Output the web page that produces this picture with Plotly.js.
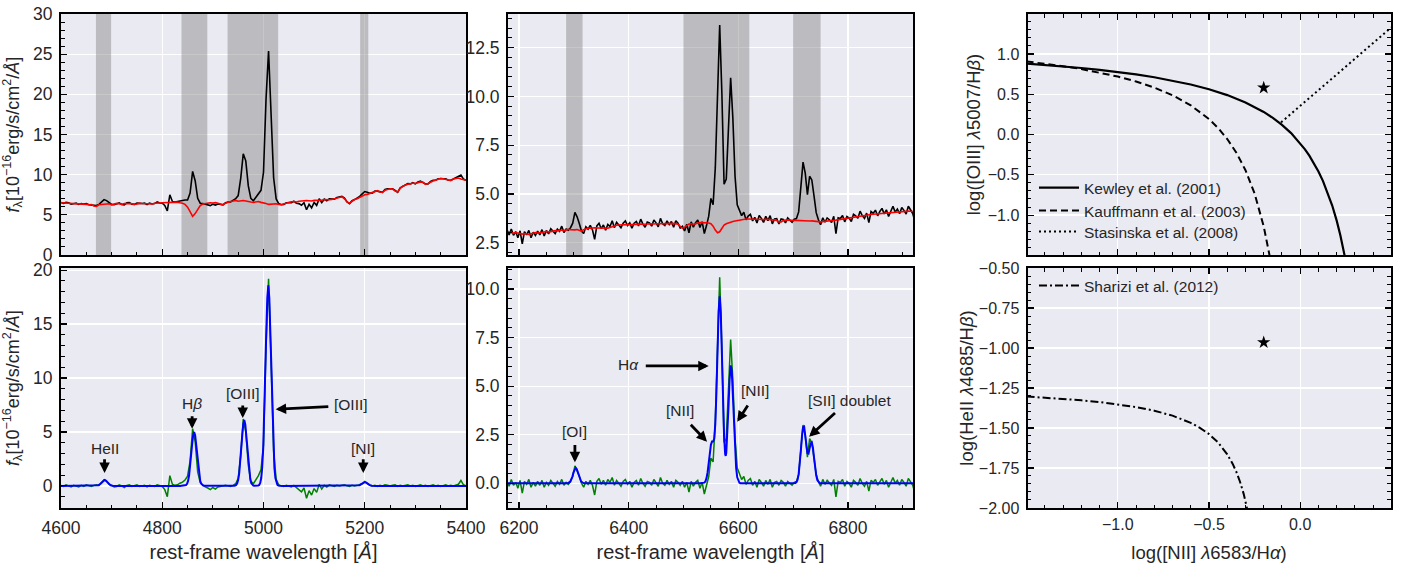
<!DOCTYPE html>
<html><head><meta charset="utf-8">
<script src="https://cdn.plot.ly/plotly-3.0.1.min.js"></script>
<style>html,body{margin:0;padding:0;background:#fff}#chart{width:1401px;height:563px}</style>
</head><body><div id="chart"></div>
<script>
// ---------- blue arm (H-beta / [OIII] region) ----------
const waveBlue = [
4600,4605,4610,4615,4620,4625,4630,4635,4640,4645,
4650,4655,4660,4665,4670,4675,4680,4685,4690,4695,
4700,4705,4710,4715,4720,4725,4730,4735,4740,4745,
4750,4755,4760,4765,4770,4775,4780,4785,4790,4795,
4800,4805,4810,4815,4820,4825,4830,4835,4840,4845,
4850,4855,4860,4865,4870,4875,4880,4885,4890,4895,
4900,4905,4910,4915,4920,4925,4930,4935,4940,4945,
4950,4955,4960,4965,4970,4975,4980,4985,4990,4995,
5000,5005,5010,5015,5020,5025,5030,5035,5040,5045,
5050,5055,5060,5065,5070,5075,5080,5085,5090,5095,
5100,5105,5110,5115,5120,5125,5130,5135,5140,5145,
5150,5155,5160,5165,5170,5175,5180,5185,5190,5195,
5200,5205,5210,5215,5220,5225,5230,5235,5240,5245,
5250,5255,5260,5265,5270,5275,5280,5285,5290,5295,
5300,5305,5310,5315,5320,5325,5330,5335,5340,5345,
5350,5355,5360,5365,5370,5375,5380,5385,5390,5395,
5400];
const stellarBlue = [
6.50,6.48,6.45,6.50,6.42,6.38,6.45,6.40,6.35,6.38,
6.30,6.25,6.28,6.10,6.05,6.25,6.30,6.35,6.32,6.38,
6.25,6.35,6.42,6.38,6.30,6.40,6.45,6.42,6.38,6.30,
6.35,6.45,6.42,6.40,6.38,6.42,6.35,6.45,6.50,6.48,
6.50,6.52,6.48,6.55,6.52,6.55,6.58,6.50,6.45,6.30,
5.95,5.40,4.80,5.15,5.75,6.15,6.35,6.42,6.45,6.50,
6.48,6.52,6.45,6.35,6.25,6.45,6.60,6.65,6.72,6.80,
6.70,6.75,6.78,6.72,6.70,6.60,6.55,6.62,6.65,6.55,
6.50,6.40,6.30,6.35,6.42,6.38,6.30,6.25,6.35,6.45,
6.55,6.62,6.65,6.60,6.70,6.75,6.72,6.78,6.75,6.72,
6.80,6.78,6.85,6.82,6.90,6.85,6.88,6.92,7.00,7.10,
7.20,7.25,7.00,6.60,6.45,6.70,6.90,7.00,7.20,7.40,
7.50,7.55,7.65,7.70,7.90,8.00,7.85,7.80,8.05,8.20,
8.25,8.20,7.95,7.85,8.30,8.55,8.70,8.80,8.85,8.95,
8.90,9.05,9.10,9.05,8.80,8.90,9.10,9.20,9.30,9.45,
9.55,9.50,9.40,9.30,9.25,9.45,9.55,9.58,9.45,9.35,
9.30];
const observedBlue = [
6.55,6.43,6.55,6.50,6.32,6.43,6.45,6.30,6.40,6.33,
6.40,6.25,6.23,6.15,6.15,6.30,6.60,6.90,6.77,6.53,
6.30,6.25,6.37,6.48,6.30,6.25,6.50,6.52,6.33,6.30,
6.45,6.40,6.42,6.45,6.28,6.47,6.35,6.40,6.60,6.48,
6.45,6.17,5.48,7.50,6.67,6.60,6.68,6.75,6.80,6.85,
6.85,7.70,10.40,9.25,7.05,6.45,6.40,6.32,6.25,6.15,
6.33,6.22,6.35,6.30,6.25,6.50,6.60,6.60,6.77,7.00,
7.40,9.55,12.60,11.72,8.60,7.05,6.75,7.17,7.60,8.05,
10.30,19.40,25.40,17.85,9.62,6.98,6.40,6.25,6.30,6.50,
6.55,6.52,6.70,6.45,6.40,6.20,6.52,5.63,6.30,5.87,
6.55,6.18,7.00,6.52,6.95,6.75,6.98,6.97,6.95,7.15,
7.20,7.30,7.10,6.60,6.40,6.75,6.90,7.05,7.30,7.60,
7.90,7.80,7.70,7.70,7.95,7.95,7.90,7.80,8.15,8.25,
8.25,8.25,8.05,7.80,8.35,8.55,8.75,8.90,8.85,9.00,
8.85,9.10,9.20,9.05,8.85,8.85,9.15,9.30,9.30,9.50,
9.50,9.55,9.50,9.30,9.30,9.45,9.60,9.73,9.95,9.45,
9.30];
const residualBlue = [
0.05,-0.05,0.10,0.00,-0.10,0.05,0.00,-0.10,0.05,-0.05,
0.10,0.00,-0.05,0.05,0.10,0.05,0.30,0.55,0.45,0.15,
0.05,-0.10,-0.05,0.10,0.00,-0.15,0.05,0.10,-0.05,0.00,
0.10,-0.05,0.00,0.05,-0.10,0.05,0.00,-0.05,0.10,0.00,
-0.05,-0.35,-1.00,0.95,0.15,0.05,0.10,0.25,0.35,0.55,
0.90,2.30,5.30,4.10,1.30,0.30,0.05,-0.10,-0.20,-0.35,
-0.15,-0.30,-0.10,-0.05,0.00,0.05,0.00,-0.05,0.05,0.20,
0.70,2.80,6.20,5.00,1.90,0.45,0.20,0.55,0.95,1.50,
3.80,13.00,19.20,11.50,3.20,0.60,0.10,0.00,-0.05,0.05,
0.00,-0.10,0.05,-0.15,-0.30,-0.55,-0.20,-1.15,-0.45,-0.85,
-0.25,-0.60,0.15,-0.30,0.05,-0.10,0.10,0.05,-0.05,0.05,
0.00,0.05,0.10,0.00,-0.05,0.05,0.00,0.05,0.10,0.20,
0.40,0.25,0.05,0.00,0.05,-0.05,0.05,0.00,0.10,0.05,
0.00,0.05,0.10,-0.05,0.05,0.00,0.05,0.10,0.00,0.05,
-0.05,0.05,0.10,0.00,0.05,-0.05,0.05,0.10,0.00,0.05,
-0.05,0.05,0.10,0.00,0.05,0.00,0.05,0.15,0.50,0.10,
0.00];
const fitBlueWave = [4600,
4670,4674,4678,4681,4684,4686,4688,4691,4694,4698,4702,4710,
4835,
4843,4845,4847,4849,4851,4853,4855,4857,4859,4861,4863,4865,4867,4869,4871,4873,4875,4877,4879,4881,4883,
4890,4935,
4942,4944,4946,4948,4950,4952,4954,4956,4958,4960,4962,4964,4966,4968,4970,4972,4974,4976,4978,4980,4982,
4985.5,4987.5,4989.5,4991.5,4993.5,4995.5,4997.5,4999.5,5001.5,5003.5,5005.5,5007.5,5009.5,5011.5,5013.5,5015.5,5017.5,5019.5,5021.5,5023.5,5025.5,5027.5,5029.5,5031.5,
5040,5180,
5186,5190,5194,5197,5200,5203,5206,5210,5214,
5222,5400];
const fitBlueFlux = [0,
0.008,0.05,0.19,0.36,0.51,0.55,0.51,0.36,0.19,0.05,0.008,0,
0,
0.007,0.024,0.073,0.196,0.462,0.958,1.737,2.76,3.839,4.68,5.0,4.68,3.839,2.76,1.737,0.958,0.462,0.196,0.073,0.024,0.007,
0,0,
0.009,0.029,0.088,0.239,0.564,1.168,2.119,3.367,4.684,5.71,6.1,5.71,4.684,3.367,2.119,1.168,0.564,0.239,0.088,0.029,0.009,
0.001,0.006,0.026,0.087,0.27,0.729,1.719,3.562,6.462,10.267,14.281,17.411,18.6,17.411,14.281,10.267,6.462,3.562,1.719,0.729,0.27,0.087,0.026,0.006,
0,0,
0.014,0.067,0.193,0.302,0.35,0.302,0.193,0.067,0.014,
0,0];
const maskBlue = [[4669,4699],[4838,4889],[4929,5029],[5191,5207]];

// ---------- red arm (H-alpha region) ----------
const waveRed = [
6178,6182,6186,6190,6194,6198,6202,6206,6210,6214,
6218,6222,6226,6230,6234,6238,6242,6246,6250,6254,
6258,6262,6266,6270,6274,6278,6282,6286,6290,6294,
6298,6302,6306,6310,6314,6318,6322,6326,6330,6334,
6338,6342,6346,6350,6354,6358,6362,6366,6370,6374,
6378,6382,6386,6390,6394,6398,6402,6406,6410,6414,
6418,6422,6426,6430,6434,6438,6442,6446,6450,6454,
6458,6462,6466,6470,6474,6478,6482,6486,6490,6494,
6498,6502,6506,6510,6514,6518,6522,6526,6530,6534,
6538,6542,6546,6550,6554,6558,6562,6566,6570,6574,
6578,6582,6586,6590,6594,6598,6602,6606,6610,6614,
6618,6622,6626,6630,6634,6638,6642,6646,6650,6654,
6658,6662,6666,6670,6674,6678,6682,6686,6690,6694,
6698,6702,6706,6710,6714,6718,6722,6726,6730,6734,
6738,6742,6746,6750,6754,6758,6762,6766,6770,6774,
6778,6782,6786,6790,6794,6798,6802,6806,6810,6814,
6818,6822,6826,6830,6834,6838,6842,6846,6850,6854,
6858,6862,6866,6870,6874,6878,6882,6886,6890,6894,
6898,6902,6906,6910,6914,6918,6922];
const stellarRed = [
3.08,3.05,3.00,2.98,3.02,3.00,2.96,2.94,2.97,2.95,
2.93,2.96,2.99,3.02,2.99,3.00,3.02,3.05,3.08,3.05,
3.07,3.10,3.12,3.10,3.13,3.15,3.12,3.15,3.19,3.17,
3.15,3.16,3.18,3.14,3.10,3.17,3.22,3.25,3.24,3.26,
3.27,3.26,3.25,3.27,3.26,3.24,3.24,3.28,3.33,3.37,
3.40,3.41,3.42,3.40,3.42,3.43,3.42,3.44,3.45,3.44,
3.46,3.46,3.45,3.44,3.46,3.47,3.45,3.46,3.47,3.46,
3.45,3.47,3.48,3.47,3.48,3.49,3.49,3.48,3.45,3.35,
3.24,3.30,3.40,3.46,3.47,3.45,3.48,3.51,3.53,3.53,
3.52,3.53,3.51,3.47,3.35,3.15,3.01,3.06,3.25,3.40,
3.47,3.52,3.56,3.59,3.61,3.64,3.67,3.69,3.71,3.72,
3.72,3.71,3.72,3.70,3.71,3.70,3.70,3.69,3.70,3.68,
3.69,3.67,3.67,3.64,3.56,3.57,3.64,3.67,3.67,3.66,
3.65,3.66,3.64,3.63,3.64,3.63,3.62,3.61,3.61,3.62,
3.60,3.59,3.58,3.57,3.58,3.60,3.62,3.63,3.64,3.65,
3.66,3.68,3.69,3.70,3.72,3.74,3.76,3.79,3.81,3.83,
3.85,3.87,3.89,3.90,3.92,3.93,3.95,3.96,3.97,3.98,
4.00,4.01,4.03,4.04,4.05,4.06,4.07,4.07,4.08,4.09,
4.10,4.11,4.12,4.12,4.11,4.10,4.10];
const observedRed = [
3.18,2.90,3.20,2.88,3.07,2.75,3.11,2.44,3.07,2.90,
3.13,2.76,3.04,2.87,3.09,2.90,3.17,2.85,3.13,2.95,
3.22,3.10,2.97,3.20,3.08,3.35,3.02,3.20,3.14,3.27,
3.50,4.06,3.83,3.49,3.10,2.97,3.32,3.20,3.39,3.16,
2.67,3.36,3.50,3.22,3.41,3.14,3.44,3.33,3.63,3.27,
3.55,3.41,3.27,3.50,3.62,3.38,3.52,3.24,3.50,3.59,
3.36,3.71,3.45,3.29,3.56,3.52,3.35,3.66,3.52,3.31,
3.75,3.47,3.38,3.62,3.43,3.59,3.29,3.63,3.50,3.25,
3.34,3.10,3.45,3.01,3.57,3.30,3.53,3.66,3.28,3.58,
2.97,3.38,3.86,4.77,4.45,6.35,10.31,13.66,10.15,5.50,
5.77,8.12,10.96,8.89,5.91,4.44,4.17,3.89,4.06,3.67,
3.87,3.96,3.62,3.80,3.51,3.90,3.75,3.54,3.85,3.63,
3.89,3.47,3.72,3.74,3.46,3.72,3.69,3.52,3.77,3.66,
3.55,3.71,3.74,4.08,5.34,6.63,6.07,4.96,5.91,5.72,
4.90,4.04,3.68,3.42,3.78,3.55,3.77,3.68,3.54,3.85,
2.96,3.78,3.74,3.90,3.57,3.84,3.76,3.59,3.96,3.88,
3.75,4.12,3.89,3.75,4.02,3.53,4.10,4.01,4.17,3.88,
4.10,4.26,3.98,4.19,3.85,4.16,4.37,4.07,4.23,3.99,
4.30,4.16,3.97,4.37,4.16,4.00,3.60];
const residualRed = [
0.10,-0.15,0.20,-0.10,0.05,-0.25,0.15,-0.50,0.10,-0.05,
0.20,-0.20,0.05,-0.15,0.10,-0.10,0.15,-0.20,0.05,-0.10,
0.15,0.00,-0.15,0.10,-0.05,0.20,-0.10,0.05,-0.05,0.10,
0.35,0.90,0.65,0.35,0.00,-0.20,0.10,-0.05,0.15,-0.10,
-0.60,0.10,0.25,-0.05,0.15,-0.10,0.20,0.05,0.30,-0.10,
0.15,0.00,-0.15,0.10,0.20,-0.05,0.10,-0.20,0.05,0.15,
-0.10,0.25,0.00,-0.15,0.10,0.05,-0.10,0.20,0.05,-0.15,
0.30,0.00,-0.10,0.15,-0.05,0.10,-0.20,0.15,0.05,-0.10,
0.10,-0.20,0.05,-0.45,0.10,-0.15,0.05,0.15,-0.25,0.05,
-0.55,-0.15,0.35,1.30,1.10,3.20,7.30,10.60,6.90,2.10,
2.30,4.60,7.40,5.30,2.30,0.80,0.50,0.20,0.35,-0.05,
0.15,0.25,-0.10,0.10,-0.20,0.20,0.05,-0.15,0.15,-0.05,
0.20,-0.20,0.05,0.10,-0.10,0.15,0.05,-0.15,0.10,0.00,
-0.10,0.05,0.10,0.45,1.70,3.00,2.45,1.35,2.30,2.10,
1.30,0.45,0.10,-0.15,0.20,-0.05,0.15,0.05,-0.10,0.20,
-0.70,0.10,0.05,0.20,-0.15,0.10,0.00,-0.20,0.15,0.05,
-0.10,0.25,0.00,-0.15,0.10,-0.40,0.15,0.05,0.20,-0.10,
0.10,0.25,-0.05,0.15,-0.20,0.10,0.30,0.00,0.15,-0.10,
0.20,0.05,-0.15,0.25,0.05,-0.10,-0.50];
const fitRedWave = [6178,
6285,6289.5,6293.5,6295.5,6297.5,6299.5,6301.5,6303.5,6305.5,6307.5,6309.5,6311.5,6313.5,6317.5,6322,
6530,
6534,6536,6538,6540,6542,6544,6546,6548,6550,6552,6554,6556,6558,6560,6562,6564,6566,6568,6570,6572,6574,6576,6577,6578,6580,6582,6584,6586,6588,6590,6592,6594,6596,6598,6600,6602,6604,
6610,6695,
6700,6702,6704,6706,6708,6710,6712,6714,6716,6718,6720,6722,6724,6726,6728,6730,6732,6734,6736,6738,6740,6742,6744,6746,6748,6750,6752,
6760,6922];
const fitRedFlux = [0,
0,0.01,0.083,0.19,0.35,0.56,0.73,0.8,0.73,0.56,0.35,0.19,0.083,0.01,0,
0,
0.002,0.009,0.033,0.10,0.27,0.57,1.03,1.56,1.98,2.15,2.15,2.29,3.05,4.65,6.85,8.83,9.62,8.78,6.70,4.30,2.44,1.50,1.41,1.56,2.46,3.89,5.30,6.07,5.80,4.62,3.08,1.71,0.79,0.31,0.10,0.026,0.006,
0,0,
0.00,0.004,0.018,0.065,0.191,0.47,0.97,1.68,2.41,2.89,2.92,2.51,1.95,1.56,1.53,1.78,2.06,2.11,1.83,1.33,0.81,0.41,0.17,0.06,0.018,0.004,0,
0,0];
const maskRed = [[6286,6316],[6500,6620],[6700,6750]];

// ---------- diagnostic diagrams ----------
const kewleyX = [-1.5,-1.4,-1.3,-1.2,-1.1,-1.0,-0.9,-0.8,-0.7,-0.6,-0.5,-0.4,-0.3,-0.25,-0.2,-0.15,-0.1,-0.05,0.0,0.025,0.05,0.075,0.1,0.125,0.15,0.175,0.2,0.22,0.243,0.246];
const kewleyY = [0.880,0.864,0.845,0.825,0.801,0.775,0.745,0.710,0.669,0.620,0.561,0.489,0.398,0.343,0.280,0.206,0.120,0.017,-0.108,-0.181,-0.262,-0.354,-0.459,-0.578,-0.716,-0.878,-1.069,-1.250,-1.497,-1.533];
const kauffX = [-1.5,-1.4,-1.3,-1.2,-1.1,-1.0,-0.9,-0.8,-0.7,-0.6,-0.5,-0.45,-0.4,-0.35,-0.3,-0.25,-0.2,-0.18,-0.168,-0.166];
const kauffY = [0.906,0.879,0.848,0.812,0.770,0.719,0.658,0.582,0.487,0.362,0.191,0.080,-0.056,-0.225,-0.443,-0.733,-1.140,-1.352,-1.498,-1.524];
const stasX = [-0.105,0.5];
const stasY = [0.15,1.33];
const shiraziX = [-1.5,-1.4,-1.3,-1.2,-1.1,-1.0,-0.9,-0.8,-0.7,-0.6,-0.55,-0.5,-0.45,-0.4,-0.37,-0.35,-0.33,-0.31,-0.2917,-0.289];
const shiraziY = [-1.303,-1.310,-1.317,-1.327,-1.338,-1.352,-1.369,-1.392,-1.423,-1.468,-1.499,-1.538,-1.591,-1.665,-1.725,-1.775,-1.836,-1.912,-2.0,-2.015];
const objNII = [-0.2];
const objOIII = [0.58];
const objHeII = [-0.965];
const legendNames = ['Kewley et al. (2001)','Kauffmann et al. (2003)','Stasinska et al. (2008)','Sharizi et al. (2012)'];

// ---------- figure ----------
const INK = '#262626';
const FONT = 'Liberation Sans, Arial, Helvetica, sans-serif';
const dL = [61/1401, 466/1401], dM = [508/1401, 913/1401], dR = [1027.5/1401, 1390.5/1401];
const dT = [1-255/563, 1-14/563], dB = [1-508/563, 1-268/563];
const rangeTL = [-0.0001,30.0001], rangeBL = [-2.05,20.2], rangeTM = [1.87,14.23], rangeBM = [-1.27,11.08];

function axis(extra, minorDtick){
  return Object.assign({
    showline:true, linecolor:'#000', linewidth:2, mirror:true,
    ticks:'inside', ticklen:6, tickwidth:1.2, tickcolor:'#000',
    showgrid:true, gridcolor:'#ffffff', gridwidth:1.3, zeroline:false,
    tickfont:{size:17.5, color:INK}, ticklabelstandoff:3,
    minor:{ticks:'inside', ticklen:3.5, tickwidth:1, tickcolor:'#000', dtick:minorDtick, showgrid:false}
  }, extra);
}
const specTitleY = {text:'<i>f</i><sub>λ</sub>[10<sup>−16</sup>erg/s/cm<sup>2</sup>/<i>Å</i>]', font:{size:18, color:INK}};
const specTitleX = {text:'rest-frame wavelength [<i>Å</i>]', font:{size:20, color:INK}};

const traces = [];
// masked (fitted) wavelength windows, drawn first so the spectra lie on top
maskBlue.forEach(b => traces.push({x:[b[0],b[1],b[1],b[0],b[0]], y:[rangeTL[0]-5,rangeTL[0]-5,rangeTL[1]+5,rangeTL[1]+5,rangeTL[0]-5],
  xaxis:'x', yaxis:'y', mode:'none', fill:'toself', fillcolor:'rgba(128,128,128,0.44)', showlegend:false, hoverinfo:'skip'}));
maskRed.forEach(b => traces.push({x:[b[0],b[1],b[1],b[0],b[0]], y:[rangeTM[0]-5,rangeTM[0]-5,rangeTM[1]+5,rangeTM[1]+5,rangeTM[0]-5],
  xaxis:'x3', yaxis:'y3', mode:'none', fill:'toself', fillcolor:'rgba(128,128,128,0.44)', showlegend:false, hoverinfo:'skip'}));

traces.push(
  {x:waveBlue, y:observedBlue, xaxis:'x', yaxis:'y', mode:'lines', line:{color:'#000', width:1.6}, showlegend:false},
  {x:waveBlue, y:stellarBlue, xaxis:'x', yaxis:'y', mode:'lines', line:{color:'#ff0000', width:1.6}, showlegend:false},
  {x:waveBlue, y:residualBlue, xaxis:'x2', yaxis:'y2', mode:'lines', line:{color:'#008000', width:1.5}, showlegend:false},
  {x:fitBlueWave, y:fitBlueFlux, xaxis:'x2', yaxis:'y2', mode:'lines', line:{color:'#0000ff', width:2}, showlegend:false},
  {x:waveRed, y:observedRed, xaxis:'x3', yaxis:'y3', mode:'lines', line:{color:'#000', width:1.6}, showlegend:false},
  {x:waveRed, y:stellarRed, xaxis:'x3', yaxis:'y3', mode:'lines', line:{color:'#ff0000', width:1.6}, showlegend:false},
  {x:waveRed, y:residualRed, xaxis:'x4', yaxis:'y4', mode:'lines', line:{color:'#008000', width:1.5}, showlegend:false},
  {x:fitRedWave, y:fitRedFlux, xaxis:'x4', yaxis:'y4', mode:'lines', line:{color:'#0000ff', width:2}, showlegend:false},
  {x:kewleyX, y:kewleyY, xaxis:'x5', yaxis:'y5', mode:'lines', line:{color:'#000', width:2.2}, name:legendNames[0], legend:'legend'},
  {x:kauffX, y:kauffY, xaxis:'x5', yaxis:'y5', mode:'lines', line:{color:'#000', width:2, dash:'7px,4px'}, name:legendNames[1], legend:'legend3'},
  {x:stasX, y:stasY, xaxis:'x5', yaxis:'y5', mode:'lines', line:{color:'#000', width:2, dash:'2px,3px'}, name:legendNames[2], legend:'legend4'},
  {x:objNII, y:objOIII, xaxis:'x5', yaxis:'y5', mode:'markers', marker:{symbol:'star', size:10, color:'#000'}, showlegend:false},
  {x:shiraziX, y:shiraziY, xaxis:'x6', yaxis:'y6', mode:'lines', line:{color:'#000', width:2, dash:'8px,3px,2px,3px'}, name:legendNames[3], legend:'legend2'},
  {x:objNII, y:objHeII, xaxis:'x6', yaxis:'y6', mode:'markers', marker:{symbol:'star', size:10, color:'#000'}, showlegend:false}
);

const annotations = [];
function label(xr, yr, x, y, text){
  annotations.push({xref:xr, yref:yr, x:x, y:y, text:text, showarrow:false, font:{size:15.5, color:INK, family:FONT}});
}
function arrow(xr, yr, tx, ty, hx, hy){
  annotations.push({xref:xr, yref:yr, axref:xr, ayref:yr, x:hx, y:hy, ax:tx, ay:ty, text:'', showarrow:true,
    arrowhead:2, arrowsize:0.75, arrowwidth:2.8, arrowcolor:'#000', standoff:0, startstandoff:0});
}
label('x2','y2',4686,3.5,'HeII');          arrow('x2','y2',4686,2.6,4686,1.2);
label('x2','y2',4859,7.6,'H<i>β</i>');     arrow('x2','y2',4859,6.6,4859,5.3);
label('x2','y2',4959,8.6,'[OIII]');        arrow('x2','y2',4959,7.6,4959,6.3);
label('x2','y2',5173,7.5,'[OIII]');        arrow('x2','y2',5131,7.35,5024,7.1);
label('x2','y2',5197,3.5,'[NI]');          arrow('x2','y2',5197,2.6,5197,1.2);
label('x4','y4',6300.6,2.66,'[OI]');       arrow('x4','y4',6302,2.05,6302,1.08);
label('x4','y4',6399.8,6.12,'H<i>α</i>');  arrow('x4','y4',6428.5,6.04,6546,6.04);
label('x4','y4',6494,3.77,'[NII]');        arrow('x4','y4',6510.7,3.09,6543,2.14);
label('x4','y4',6631,4.8,'[NII]');         arrow('x4','y4',6619,4.08,6598,3.17);
label('x4','y4',6801.8,4.25,'[SII] doublet'); arrow('x4','y4',6779,3.69,6729,2.4);

function legendAt(topPx){
  return {x:1034/1401, y:1-topPx/563, xanchor:'left', yanchor:'top', bgcolor:'rgba(0,0,0,0)', font:{size:15.5,color:INK,family:FONT}, itemwidth:40};
}

const layout = {
  width:1401, height:563, margin:{l:0,r:0,t:0,b:0},
  paper_bgcolor:'#ffffff', plot_bgcolor:'#eaeaf2',
  font:{family:FONT, color:INK},
  xaxis: axis({domain:dL, anchor:'y', range:[4600,5400], dtick:200, tick0:0, showticklabels:false}, 50),
  yaxis: axis({domain:dT, anchor:'x', range:rangeTL, dtick:5, tick0:0, title:specTitleY}, 1),
  xaxis2: axis({domain:dL, anchor:'y2', range:[4600,5400], dtick:200, tick0:0, title:specTitleX}, 50),
  yaxis2: axis({domain:dB, anchor:'x2', range:rangeBL, dtick:5, tick0:0, title:specTitleY}, 1),
  xaxis3: axis({domain:dM, anchor:'y3', range:[6180,6918.5], dtick:200, tick0:0, showticklabels:false}, 50),
  yaxis3: axis({domain:dT, anchor:'x3', range:rangeTM, dtick:2.5, tick0:0, tickformat:'.1f'}, 0.5),
  xaxis4: axis({domain:dM, anchor:'y4', range:[6180,6918.5], dtick:200, tick0:0, title:specTitleX}, 50),
  yaxis4: axis({domain:dB, anchor:'x4', range:rangeBM, dtick:2.5, tick0:0, tickformat:'.1f'}, 0.5),
  xaxis5: axis({domain:dR, anchor:'y5', range:[-1.495,0.495], dtick:0.5, tick0:0, showticklabels:false, mirror:'allticks', tickformat:'.1f', tickfont:{size:16,color:INK}}, 0.1),
  yaxis5: axis({domain:dT, anchor:'x5', range:[-1.495,1.495], dtick:0.5, tick0:0, mirror:'allticks', tickformat:'.1f', tickfont:{size:16,color:INK},
    title:{text:'log([OIII] <i>λ</i>5007/H<i>β</i>)', font:{size:18.5,color:INK}}}, 0.1),
  xaxis6: axis({domain:dR, anchor:'y6', range:[-1.495,0.495], dtick:0.5, tick0:0, mirror:'allticks', tickformat:'.1f', tickfont:{size:16,color:INK}, ticklabelstandoff:1,
    title:{text:'log([NII] <i>λ</i>6583/H<i>α</i>)', font:{size:18.5,color:INK}}}, 0.1),
  yaxis6: axis({domain:dB, anchor:'x6', range:[-2.0005,-0.4995], dtick:0.25, tick0:0, mirror:'allticks', tickformat:'.2f', tickfont:{size:16,color:INK},
    title:{text:'log(HeII <i>λ</i>4685/H<i>β</i>)', font:{size:18.5,color:INK}}}, 0.05),
  legend: legendAt(171),
  legend3: legendAt(194),
  legend4: legendAt(215),
  legend2: legendAt(269),
  annotations:annotations
};
Plotly.newPlot('chart', traces, layout, {displayModeBar:false, staticPlot:true});
</script></body></html>
